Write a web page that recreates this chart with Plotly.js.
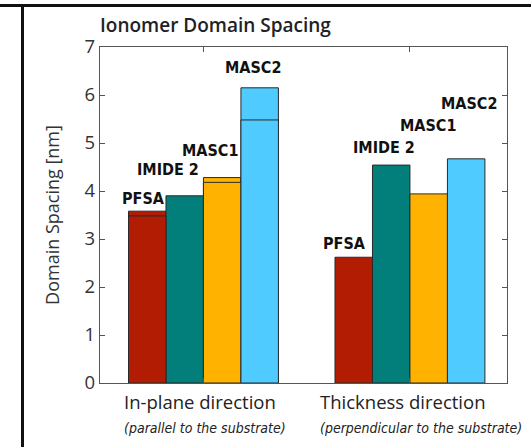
<!DOCTYPE html>
<html>
<head>
<meta charset="utf-8">
<script src="https://cdn.plot.ly/plotly-3.0.1.min.js"></script>
<style>
  html, body { margin: 0; padding: 0; background: #fff; }
  #wrap { position: relative; width: 531px; height: 447px; overflow: hidden; }
  #chart { position: absolute; left: 0; top: 0; width: 531px; height: 447px; }
  /* page frame around the figure */
  .frame-top { position: absolute; left: 0; top: 4px; width: 531px; height: 3px; background: #111; z-index: 2; }
  .frame-left { position: absolute; left: 21px; top: 4px; width: 3px; height: 443px; background: #111; z-index: 2; }
</style>
</head>
<body>
<div id="wrap">
  <div id="chart"></div>
  <div class="frame-top"></div>
  <div class="frame-left"></div>
</div>
<script>
// Directions measured (x positions 0 and 1)
const directions = [0, 1];
const directionNames = ['In-plane direction', 'Thickness direction'];
const directionNotes = ['(parallel to the substrate)', '(perpendicular to the substrate)'];

// Ionomers
const ionomers = ['PFSA', 'IMIDE 2', 'MASC1', 'MASC2'];

// Domain spacing [nm] per ionomer: [in-plane, thickness]
const pfsa   = [3.58, 2.62];
const imide2 = [3.90, 4.54];
const masc1  = [4.28, 3.94];
const masc2  = [6.15, 4.67];

// Lower bound of the spacing range where a second peak was found
const pfsaLow   = [3.48, null];
const imide2Low = [null, null];
const masc1Low  = [4.18, null];
const masc2Low  = [5.48, null];

const highs = [pfsa, imide2, masc1, masc2];
const lows  = [pfsaLow, imide2Low, masc1Low, masc2Low];
const colors = ['#B21C02', '#027E7B', '#FFB300', '#4FCBFF'];

const barWidth = 0.1816;
const outline = { color: '#2a2a2a', width: 1 };

const traces = [];
highs.forEach((vals, i) => {
  traces.push({
    type: 'bar', x: directions, y: vals, name: ionomers[i],
    offsetgroup: String(i), marker: { color: colors[i], line: outline },
    hoverinfo: 'name+y'
  });
});
lows.forEach((vals, i) => {
  traces.push({
    type: 'bar', x: directions, y: vals, name: ionomers[i] + ' (low)',
    offsetgroup: String(i), marker: { color: colors[i], line: outline },
    hoverinfo: 'name+y', showlegend: false
  });
});

// Label placement relative to each bar top: pixel shifts [dx, dy] per direction
const labelShift = [
  [[-4, 13], [-17, 26], [-12, 27], [-7, 20]],
  [[-9, 14], [-7, 18], [-1, 68], [3, 55]]
];

const labelFont = 'Liberation Sans Narrow, DejaVu Sans Condensed, sans-serif';
const annotations = [];
directions.forEach((d, j) => {
  ionomers.forEach((name, i) => {
    const xc = d + (i - 1.5) * barWidth;
    annotations.push({
      x: xc, y: highs[i][j], xref: 'x', yref: 'y',
      text: name, showarrow: false,
      xanchor: 'center', yanchor: 'middle',
      xshift: labelShift[j][i][0], yshift: labelShift[j][i][1],
      font: { family: labelFont, size: 16, color: '#111', weight: 700 }
    });
  });
});

// Direction labels under the axis, left-aligned two-line blocks
const dirShift = [2, 11];
directions.forEach((d, j) => {
  annotations.push({
    x: d, y: 0, xref: 'x', yref: 'paper',
    text: directionNames[j] + '<br><i><span style="font-family:' + labelFont + ';font-size:14px">' + directionNotes[j] + '</span></i>',
    showarrow: false, align: 'left',
    xanchor: 'center', yanchor: 'top', xshift: dirShift[j], yshift: -4,
    font: { family: 'Open Sans, sans-serif', size: 18.5, color: '#222' }
  });
});

const layout = {
  width: 531, height: 447,
  margin: { l: 100, r: 24, t: 47, b: 64 },
  paper_bgcolor: '#fff', plot_bgcolor: '#fff',
  showlegend: false,
  barmode: 'group', bargap: 0.274, bargroupgap: 0,
  title: {
    text: 'Ionomer Domain Spacing',
    x: 100 / 531, xanchor: 'left', xref: 'container',
    y: 1 - 25 / 447, yanchor: 'middle', yref: 'container',
    font: { family: 'Open Sans, sans-serif', size: 19, color: '#222', weight: 600 }
  },
  xaxis: {
    range: [-0.501, 1.470], tickvals: directions, showticklabels: false,
    ticks: 'inside', ticklen: 5, tickcolor: '#555', mirror: 'ticks',
    showline: true, linecolor: '#555', linewidth: 1.2,
    showgrid: false, zeroline: false, fixedrange: true
  },
  yaxis: {
    range: [0, 7], dtick: 1, tick0: 0,
    ticks: 'inside', ticklen: 5, tickcolor: '#555', mirror: 'ticks',
    showline: true, linecolor: '#555', linewidth: 1.2,
    showgrid: false, zeroline: false, fixedrange: true,
    tickfont: { family: 'Open Sans, sans-serif', size: 18.5, color: '#333' },
    title: { text: 'Domain Spacing [nm]', standoff: 20,
             font: { family: 'Open Sans, sans-serif', size: 18, color: '#333' } }
  },
  annotations: annotations
};

Plotly.newPlot('chart', traces, layout, { displayModeBar: false, staticPlot: true });
</script>
</body>
</html>
